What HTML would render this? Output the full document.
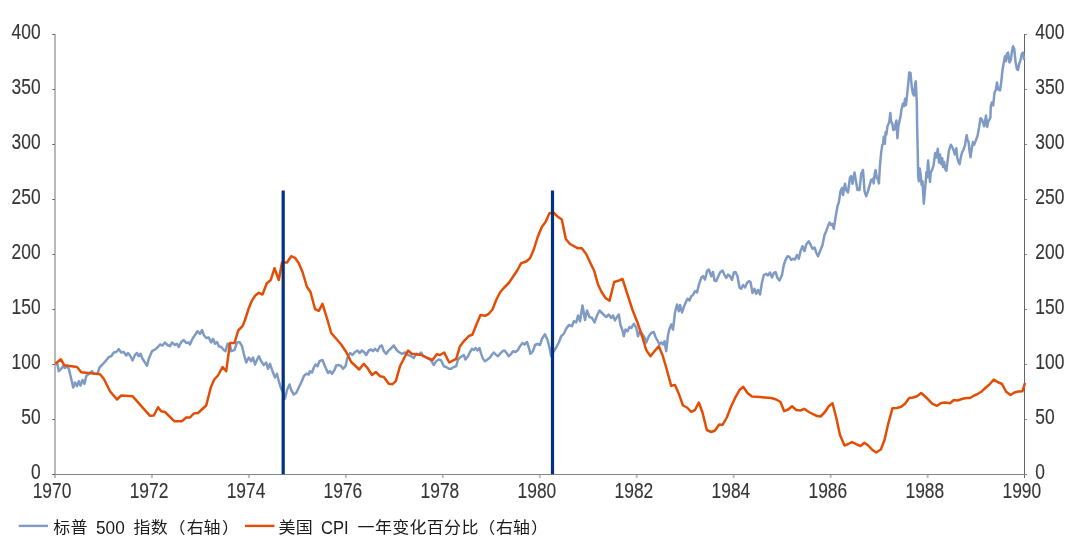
<!DOCTYPE html>
<html lang="zh"><head><meta charset="utf-8"><title>chart</title>
<style>
html,body{margin:0;padding:0;background:#fff;}
body{width:1080px;height:553px;overflow:hidden;}
svg{display:block;}
.tick{font-family:"Liberation Sans",sans-serif;font-size:22.5px;fill:#363636;stroke:#363636;stroke-width:0.15px;}
.leg{font-family:"Liberation Sans","Noto Sans CJK SC",sans-serif;fill:#1a1a1a;}
</style></head><body>
<svg width="1080" height="553" viewBox="0 0 1080 553">
<rect width="1080" height="553" fill="#ffffff"/>

<g fill="none">
<line x1="55" y1="34" x2="55" y2="478" stroke="#b8b8b8" stroke-width="2"/>
<line x1="1024.5" y1="34" x2="1024.5" y2="478" stroke="#666666" stroke-width="1"/>
<line x1="55.0" y1="475" x2="55.0" y2="478" stroke="#bdbdbd" stroke-width="2"/>
<line x1="151.9" y1="475" x2="151.9" y2="478" stroke="#bdbdbd" stroke-width="2"/>
<line x1="248.9" y1="475" x2="248.9" y2="478" stroke="#bdbdbd" stroke-width="2"/>
<line x1="345.9" y1="475" x2="345.9" y2="478" stroke="#bdbdbd" stroke-width="2"/>
<line x1="442.8" y1="475" x2="442.8" y2="478" stroke="#bdbdbd" stroke-width="2"/>
<line x1="539.8" y1="475" x2="539.8" y2="478" stroke="#bdbdbd" stroke-width="2"/>
<line x1="636.7" y1="475" x2="636.7" y2="478" stroke="#bdbdbd" stroke-width="2"/>
<line x1="733.6" y1="475" x2="733.6" y2="478" stroke="#bdbdbd" stroke-width="2"/>
<line x1="830.6" y1="475" x2="830.6" y2="478" stroke="#bdbdbd" stroke-width="2"/>
<line x1="927.6" y1="475" x2="927.6" y2="478" stroke="#bdbdbd" stroke-width="2"/>
<line x1="1024.5" y1="474" x2="1024.5" y2="478" stroke="#666666" stroke-width="1"/>
<line x1="52.5" y1="474.5" x2="1027" y2="474.5" stroke="#858585" stroke-width="1"/>
<line x1="52.4" y1="474.5" x2="54.6" y2="474.5" stroke="#555555" stroke-width="1"/>
<line x1="1025" y1="474.5" x2="1027" y2="474.5" stroke="#8a8a8a" stroke-width="1"/>
<line x1="52.4" y1="419.5" x2="54.6" y2="419.5" stroke="#555555" stroke-width="1"/>
<line x1="1025" y1="419.5" x2="1027" y2="419.5" stroke="#8a8a8a" stroke-width="1"/>
<line x1="52.4" y1="364.5" x2="54.6" y2="364.5" stroke="#555555" stroke-width="1"/>
<line x1="1025" y1="364.5" x2="1027" y2="364.5" stroke="#8a8a8a" stroke-width="1"/>
<line x1="52.4" y1="309.5" x2="54.6" y2="309.5" stroke="#555555" stroke-width="1"/>
<line x1="1025" y1="309.5" x2="1027" y2="309.5" stroke="#8a8a8a" stroke-width="1"/>
<line x1="52.4" y1="254.5" x2="54.6" y2="254.5" stroke="#555555" stroke-width="1"/>
<line x1="1025" y1="254.5" x2="1027" y2="254.5" stroke="#8a8a8a" stroke-width="1"/>
<line x1="52.4" y1="199.5" x2="54.6" y2="199.5" stroke="#555555" stroke-width="1"/>
<line x1="1025" y1="199.5" x2="1027" y2="199.5" stroke="#8a8a8a" stroke-width="1"/>
<line x1="52.4" y1="144.5" x2="54.6" y2="144.5" stroke="#555555" stroke-width="1"/>
<line x1="1025" y1="144.5" x2="1027" y2="144.5" stroke="#8a8a8a" stroke-width="1"/>
<line x1="52.4" y1="89.5" x2="54.6" y2="89.5" stroke="#555555" stroke-width="1"/>
<line x1="1025" y1="89.5" x2="1027" y2="89.5" stroke="#8a8a8a" stroke-width="1"/>
<line x1="52.4" y1="34.5" x2="54.6" y2="34.5" stroke="#555555" stroke-width="1"/>
<line x1="1025" y1="34.5" x2="1027" y2="34.5" stroke="#8a8a8a" stroke-width="1"/>
</g>
<text class="tick" transform="translate(40.6,479.1) scale(0.773,1)" text-anchor="end">0</text>
<text class="tick" transform="translate(1035.3,479.1) scale(0.773,1)" text-anchor="start">0</text>
<text class="tick" transform="translate(40.6,424.1) scale(0.773,1)" text-anchor="end">50</text>
<text class="tick" transform="translate(1035.3,424.1) scale(0.773,1)" text-anchor="start">50</text>
<text class="tick" transform="translate(40.6,369.1) scale(0.773,1)" text-anchor="end">100</text>
<text class="tick" transform="translate(1035.3,369.1) scale(0.773,1)" text-anchor="start">100</text>
<text class="tick" transform="translate(40.6,314.1) scale(0.773,1)" text-anchor="end">150</text>
<text class="tick" transform="translate(1035.3,314.1) scale(0.773,1)" text-anchor="start">150</text>
<text class="tick" transform="translate(40.6,259.1) scale(0.773,1)" text-anchor="end">200</text>
<text class="tick" transform="translate(1035.3,259.1) scale(0.773,1)" text-anchor="start">200</text>
<text class="tick" transform="translate(40.6,204.1) scale(0.773,1)" text-anchor="end">250</text>
<text class="tick" transform="translate(1035.3,204.1) scale(0.773,1)" text-anchor="start">250</text>
<text class="tick" transform="translate(40.6,149.1) scale(0.773,1)" text-anchor="end">300</text>
<text class="tick" transform="translate(1035.3,149.1) scale(0.773,1)" text-anchor="start">300</text>
<text class="tick" transform="translate(40.6,94.1) scale(0.773,1)" text-anchor="end">350</text>
<text class="tick" transform="translate(1035.3,94.1) scale(0.773,1)" text-anchor="start">350</text>
<text class="tick" transform="translate(40.6,39.1) scale(0.773,1)" text-anchor="end">400</text>
<text class="tick" transform="translate(1035.3,39.1) scale(0.773,1)" text-anchor="start">400</text>
<text class="tick" transform="translate(52.0,498.4) scale(0.773,1)" text-anchor="middle">1970</text>
<text class="tick" transform="translate(149.0,498.4) scale(0.773,1)" text-anchor="middle">1972</text>
<text class="tick" transform="translate(246.0,498.4) scale(0.773,1)" text-anchor="middle">1974</text>
<text class="tick" transform="translate(342.9,498.4) scale(0.773,1)" text-anchor="middle">1976</text>
<text class="tick" transform="translate(439.9,498.4) scale(0.773,1)" text-anchor="middle">1978</text>
<text class="tick" transform="translate(536.9,498.4) scale(0.773,1)" text-anchor="middle">1980</text>
<text class="tick" transform="translate(633.9,498.4) scale(0.773,1)" text-anchor="middle">1982</text>
<text class="tick" transform="translate(730.9,498.4) scale(0.773,1)" text-anchor="middle">1984</text>
<text class="tick" transform="translate(827.8,498.4) scale(0.773,1)" text-anchor="middle">1986</text>
<text class="tick" transform="translate(924.8,498.4) scale(0.773,1)" text-anchor="middle">1988</text>
<text class="tick" transform="translate(1021.8,498.4) scale(0.773,1)" text-anchor="middle">1990</text>
<polyline points="55.5,363.8 57.5,364.5 58.8,371.2 61.2,368.8 63.0,366.2 65.0,368.0 67.0,365.8 68.8,368.8 71.2,378.8 73.2,387.5 75.0,382.5 77.0,386.2 78.8,381.2 80.5,385.5 82.5,380.0 84.5,383.8 86.2,376.2 88.8,373.8 92.0,371.2 93.8,373.8 97.5,373.8 99.5,367.5 102.5,364.5 105.5,361.2 108.8,357.0 111.2,356.2 113.8,352.5 116.2,352.0 118.8,349.2 121.2,352.5 123.8,352.0 126.2,355.5 128.0,353.0 130.5,356.2 132.5,360.5 135.0,355.0 137.0,353.0 138.8,356.2 140.5,353.8 142.5,358.8 145.0,362.5 147.0,365.8 148.8,358.8 152.0,351.2 155.0,349.5 157.5,347.5 160.0,344.5 162.5,345.5 165.0,342.5 167.5,345.0 170.0,346.2 172.0,342.5 175.0,345.0 177.0,343.8 178.8,347.0 181.2,342.0 183.8,340.0 186.2,343.0 188.8,342.5 190.0,344.5 192.5,338.8 195.0,335.0 197.5,331.2 200.0,333.8 202.0,330.0 203.8,335.0 206.2,338.0 208.8,337.5 211.2,342.5 213.0,338.8 215.0,343.8 217.0,342.0 218.8,346.2 221.2,347.0 223.8,350.0 225.5,351.2 227.5,343.8 230.0,345.0 231.2,351.2 234.5,350.0 237.0,342.5 239.5,342.0 242.0,346.2 243.8,353.8 246.2,362.5 248.8,357.5 251.2,361.2 253.0,357.5 255.0,364.5 257.5,358.8 258.8,356.2 261.2,361.2 263.8,365.0 266.2,362.5 268.0,368.8 270.0,363.8 272.5,371.2 275.0,377.5 277.0,373.8 278.8,381.2 281.2,388.8 283.0,392.5 285.0,398.8 287.0,390.0 289.5,384.5 291.2,390.0 293.8,394.5 296.2,393.0 298.8,387.5 301.2,382.5 303.8,376.2 306.2,373.8 308.8,374.5 310.0,371.2 312.0,372.5 313.8,367.5 315.5,364.5 317.5,366.2 319.5,361.2 322.5,360.0 325.0,366.2 328.0,373.0 330.0,371.2 332.0,373.8 334.5,370.0 336.2,365.5 338.8,365.0 341.2,366.2 343.0,368.8 345.5,366.2 347.5,357.5 350.0,353.0 352.5,355.0 355.0,352.0 357.5,350.5 359.5,353.0 362.0,350.5 364.5,352.5 366.2,355.0 368.8,350.5 371.2,349.5 373.0,351.2 375.0,348.8 377.5,351.2 380.0,346.2 381.8,345.5 383.8,351.2 386.2,353.8 388.0,351.2 390.5,348.8 393.8,345.5 396.2,349.5 398.8,352.0 402.0,353.8 405.0,352.5 408.0,355.0 411.2,356.2 413.8,358.0 416.2,353.8 418.8,354.5 421.2,352.5 423.0,356.2 426.2,357.5 428.8,358.8 431.2,360.5 433.8,365.0 436.2,361.2 438.8,359.5 441.2,360.5 443.8,366.2 446.2,367.0 448.8,368.8 451.2,368.8 453.8,367.0 456.2,366.2 458.0,359.5 460.0,357.5 462.0,356.2 463.8,355.0 465.5,359.5 468.0,356.2 470.0,352.0 472.0,348.8 473.8,350.0 475.5,348.0 477.5,350.5 479.5,348.0 481.2,353.8 483.0,358.8 485.0,361.2 487.5,359.5 490.0,357.5 492.0,354.5 493.8,352.5 496.2,355.0 498.0,356.2 500.0,353.8 502.5,351.2 504.5,350.5 506.2,352.5 508.8,356.2 511.2,353.8 513.0,351.2 515.5,352.0 518.0,350.0 520.0,346.2 522.5,343.0 524.5,344.5 527.0,342.0 528.8,347.5 530.5,353.8 533.0,351.2 535.0,345.0 537.5,343.8 540.0,345.0 542.0,338.8 545.0,334.2 547.5,340.0 549.5,347.5 551.2,356.2 553.8,351.2 556.2,347.5 558.8,342.5 561.2,336.2 563.8,333.8 566.2,328.8 568.8,325.0 572.0,326.2 573.8,321.2 576.2,322.5 578.0,315.5 580.0,321.2 582.5,305.5 585.0,320.0 587.0,310.5 589.5,317.0 592.0,318.0 594.5,322.5 597.0,315.5 599.5,310.5 602.0,313.0 604.5,315.5 606.2,317.0 608.8,314.5 611.2,318.0 613.0,315.5 615.0,320.5 617.0,317.0 618.8,314.5 620.5,325.0 622.5,330.5 623.8,336.2 625.5,329.5 627.5,331.2 629.5,327.0 631.2,328.0 633.8,323.8 636.2,327.5 638.0,336.2 640.0,331.2 642.0,333.8 644.5,337.5 646.2,342.5 648.8,336.2 651.2,333.0 653.8,332.0 655.5,337.0 657.5,340.5 659.5,344.5 661.2,342.5 663.0,344.5 664.5,341.2 666.2,351.2 668.0,335.0 669.5,328.8 671.2,324.5 673.0,329.5 675.0,312.5 677.0,304.5 678.8,311.2 680.0,305.0 682.0,312.5 683.8,307.0 685.5,303.0 687.5,298.8 689.5,300.5 691.2,296.2 693.0,295.0 695.0,291.2 697.0,292.5 698.8,285.0 701.2,278.0 703.0,276.2 705.0,279.5 707.0,271.2 708.8,269.5 711.2,276.2 713.0,272.0 714.5,280.5 716.2,281.2 718.0,277.0 720.0,272.5 722.5,270.5 724.5,275.0 726.2,278.0 728.0,274.5 730.0,276.2 732.0,280.0 733.8,272.5 735.5,272.0 737.5,276.2 739.5,287.5 741.2,288.8 743.0,285.0 745.0,287.5 747.0,283.0 748.8,281.2 750.5,282.0 752.5,293.0 754.5,288.8 756.2,293.8 758.0,290.0 760.0,294.5 762.0,282.5 763.8,275.0 766.2,273.8 768.0,275.5 770.0,272.5 772.0,277.5 773.8,273.0 775.5,272.0 777.5,278.0 779.5,280.5 782.0,275.0 783.8,265.0 785.5,260.0 787.5,256.2 789.5,257.0 791.2,260.0 793.0,258.8 795.0,259.5 797.0,255.0 798.8,258.8 800.5,251.2 802.5,246.2 804.5,251.2 806.2,244.5 808.8,241.2 810.5,244.5 812.5,248.8 814.5,247.5 816.2,252.5 818.0,256.2 820.0,251.2 822.5,245.0 824.5,235.0 826.2,231.2 828.0,226.2 829.5,222.5 831.2,225.0 832.5,223.8 833.8,228.8 835.5,217.5 837.5,206.2 838.8,202.5 840.5,191.2 842.0,188.0 843.0,195.0 845.0,183.8 846.2,190.0 848.0,192.5 850.0,177.5 851.2,176.2 852.5,183.8 854.5,172.5 856.2,182.5 857.5,190.0 859.5,190.0 861.2,173.8 863.0,170.0 864.5,191.2 866.2,196.2 868.0,191.2 870.0,184.1 871.2,179.7 872.2,181.2 873.0,178.9 873.7,183.4 874.7,173.8 875.6,170.1 876.7,177.5 877.7,178.9 878.9,183.4 879.9,166.3 881.1,153.0 882.2,145.6 883.0,143.8 883.8,136.7 884.8,143.8 885.6,132.2 886.3,134.5 887.5,126.3 888.5,124.1 889.3,121.9 890.3,113.0 891.2,121.9 892.2,123.3 893.3,130.0 894.5,129.3 895.5,124.1 896.4,120.4 897.4,138.2 898.5,125.6 899.7,120.4 900.7,115.2 901.4,110.0 902.8,103.8 904.0,106.2 905.0,98.8 906.0,105.0 907.2,93.8 908.5,81.2 909.2,72.5 910.5,73.0 911.8,87.5 913.0,93.8 914.0,95.5 915.0,85.0 915.8,81.2 916.8,102.5 917.1,124.8 917.8,154.5 918.2,176.7 918.9,181.2 919.8,168.6 920.7,175.2 921.6,184.9 922.5,181.2 923.8,203.7 925.0,189.9 926.4,172.3 927.1,177.5 928.1,160.4 929.0,172.3 930.0,181.9 930.8,172.3 932.0,170.1 933.5,165.6 935.2,153.0 936.4,157.4 937.8,148.8 939.0,162.6 940.0,154.5 941.2,164.1 942.2,158.2 943.0,167.1 944.1,161.9 945.3,169.3 946.4,170.8 947.9,158.9 948.9,150.8 950.8,144.8 952.3,147.1 953.8,150.8 954.8,154.5 956.3,148.3 957.2,157.4 958.2,161.2 959.7,164.1 960.8,157.4 961.9,153.0 963.4,149.7 964.9,145.6 966.7,135.2 967.6,140.4 968.6,141.9 969.6,151.5 970.5,157.2 972.0,147.1 973.0,141.9 974.1,144.8 975.6,141.1 977.5,135.9 979.0,127.8 980.5,118.2 982.0,119.6 983.4,124.1 984.2,126.3 986.0,115.6 987.1,127.0 988.2,121.9 989.4,119.6 990.4,117.4 990.8,106.2 991.8,102.5 993.2,105.5 994.5,92.5 995.8,90.0 997.0,82.5 998.2,89.5 1000.0,90.5 1001.2,82.5 1002.5,70.0 1003.8,62.5 1005.0,56.2 1006.0,61.2 1007.0,53.8 1008.0,52.5 1009.5,62.5 1010.8,60.0 1012.0,51.2 1013.0,46.2 1014.2,48.8 1015.5,61.2 1016.8,68.8 1018.0,70.0 1019.2,63.8 1020.5,60.0 1021.8,53.8 1023.0,52.5 1024.2,60.0" fill="none" stroke="#7f9bc4" stroke-width="2.5" stroke-linejoin="round" stroke-linecap="butt"/>
<polyline points="55.5,363.8 60.8,359.2 64.2,365.2 77.0,367.0 81.2,372.2 100.0,374.2 103.8,378.8 110.0,391.2 117.0,399.5 121.2,395.5 132.5,396.2 150.0,415.8 153.8,415.5 158.0,407.2 161.2,411.2 165.0,412.0 174.2,421.2 181.8,421.2 186.2,417.5 190.0,417.5 193.8,413.5 198.0,413.0 206.2,405.5 210.8,387.5 214.2,379.5 218.0,375.5 222.5,367.0 226.2,371.2 230.0,343.0 234.5,343.0 238.2,330.5 242.5,326.2 245.0,320.0 248.8,308.2 251.8,300.8 255.0,295.8 258.8,292.8 262.5,294.5 266.8,283.2 270.8,280.0 274.5,268.2 278.8,280.0 282.0,262.5 287.0,262.5 291.2,256.2 295.0,257.8 298.8,263.2 302.5,272.0 306.8,286.5 310.5,292.0 315.0,309.0 318.8,310.8 322.5,303.8 327.5,320.0 331.2,333.0 336.2,338.8 341.2,344.5 346.2,352.0 351.2,362.0 359.2,369.5 363.8,363.8 367.5,368.0 372.0,375.0 375.8,372.0 380.0,376.2 383.8,377.0 388.8,383.8 392.5,384.2 395.8,381.2 400.0,366.2 403.8,358.8 408.0,350.5 411.8,353.8 421.8,355.0 427.5,358.0 432.5,360.0 436.8,354.2 440.0,355.0 444.2,352.5 449.2,362.5 456.2,358.8 460.0,346.2 464.2,340.8 468.8,336.2 472.5,334.5 476.2,325.0 480.5,315.0 485.0,315.8 488.8,313.8 492.5,309.5 496.2,300.0 500.0,292.5 503.8,288.0 508.8,283.0 512.5,277.5 517.5,270.0 521.2,263.2 526.2,261.5 530.0,258.2 533.8,249.5 537.5,237.5 541.8,227.0 545.5,222.0 549.5,213.2 553.8,212.8 557.5,216.5 561.8,219.5 565.8,239.0 570.0,244.0 577.5,248.2 581.8,248.2 586.2,254.0 590.5,263.2 594.2,270.8 598.0,284.5 601.8,292.5 605.8,298.2 609.5,300.8 614.2,282.0 618.2,280.8 622.5,279.0 627.5,294.5 632.5,310.0 637.5,322.5 642.5,337.5 646.2,350.0 650.5,356.2 654.5,351.2 658.8,346.2 662.5,355.0 666.2,367.5 671.2,385.8 675.0,385.0 678.8,393.8 683.0,405.5 687.0,407.5 691.2,411.8 695.0,410.0 698.8,402.5 702.5,412.5 706.8,430.0 711.2,432.0 715.0,430.5 719.2,424.5 722.5,425.0 726.8,417.5 731.2,406.2 735.0,398.2 739.5,390.0 743.2,386.8 747.5,393.0 752.0,396.5 760.0,397.0 765.0,397.5 771.2,398.0 776.2,399.5 780.5,402.0 784.2,411.2 788.2,409.5 792.0,406.2 796.2,410.0 800.5,410.5 804.2,408.8 808.8,412.0 813.0,414.2 817.0,416.0 820.5,416.5 824.5,412.5 828.8,406.2 832.5,403.2 836.2,417.5 840.0,435.0 844.5,445.5 848.2,444.0 852.0,442.0 856.2,444.2 860.5,446.0 864.5,442.8 868.2,445.5 872.5,450.0 876.2,452.5 880.8,449.5 884.5,440.0 888.2,423.8 892.5,408.2 896.8,408.0 901.2,406.8 905.0,403.8 909.2,398.0 913.0,397.5 917.0,396.2 921.2,393.0 926.2,397.5 932.5,403.8 937.0,405.8 941.2,403.0 945.0,402.5 950.0,403.2 953.8,400.0 957.5,400.5 961.8,399.0 966.2,398.0 970.0,398.0 974.2,395.5 978.0,393.8 982.0,391.2 985.8,387.5 989.5,384.5 993.8,379.5 997.5,382.0 1002.0,384.0 1006.2,391.8 1010.5,395.0 1014.5,392.5 1018.2,391.5 1022.5,391.2 1025.0,383.0" fill="none" stroke="#e24e06" stroke-width="2.5" stroke-linejoin="round" stroke-linecap="butt"/>
<line x1="283.2" y1="190.4" x2="283.2" y2="474.3" stroke="#04317f" stroke-width="3.2"/>
<line x1="552.5" y1="190.4" x2="552.5" y2="474.3" stroke="#04317f" stroke-width="3.2"/>
<line x1="18.7" y1="525.9" x2="48" y2="525.9" stroke="#7f9bc4" stroke-width="2.4"/>
<line x1="245" y1="525.9" x2="274.5" y2="525.9" stroke="#e24e06" stroke-width="2.4"/>
<text class="leg" font-size="15.8" transform="translate(53.2,533.0) scale(1.0759,1)" x="0.00 16.08" y="0">标普</text>
<text class="leg" font-size="17.8" transform="translate(96.0,533.6) scale(0.967,1)">500</text>
<text class="leg" font-size="15.8" transform="translate(133.6,533.0) scale(1.0759,1)" x="0.00 15.99 32.53 49.35 65.06 82.16" y="0">指数（右轴）</text>
<text class="leg" font-size="15.8" transform="translate(278.4,533.0) scale(1.0759,1)" x="0.00 16.08" y="0">美国</text>
<text class="leg" font-size="17.8" transform="translate(321.0,533.6) scale(0.93,1)">CPI</text>
<text class="leg" font-size="15.8" transform="translate(357.6,533.0) scale(1.0759,1)" x="0.00 16.08 32.16 48.24 64.32 80.39 96.47 112.18 128.63 144.34 161.25" y="0">一年变化百分比（右轴）</text>
</svg></body></html>
